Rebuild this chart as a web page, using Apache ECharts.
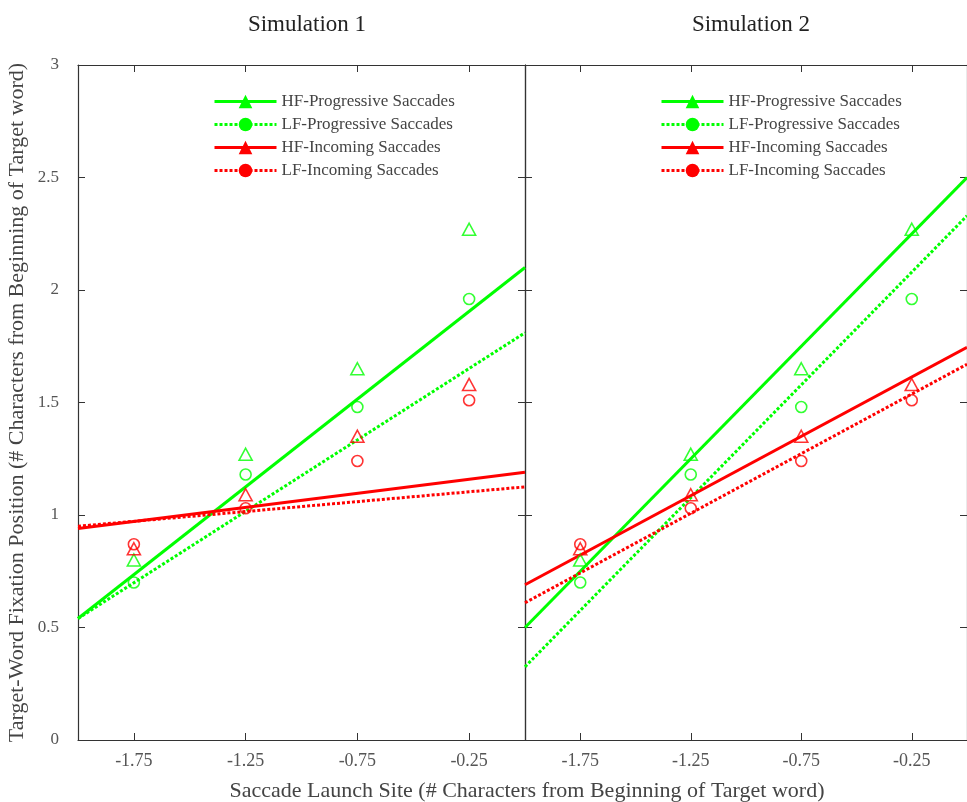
<!DOCTYPE html>
<html>
<head>
<meta charset="utf-8">
<script src="https://cdn.jsdelivr.net/npm/echarts@6/dist/echarts.min.js"></script>
<style>
  html, body { margin: 0; padding: 0; background: #fff; }
  #chart { width: 967px; height: 802px; }
</style>
</head>
<body>
<div id="chart"></div>
<script>
// ---- Data ----
const launchSites = [-1.75, -1.25, -0.75, -0.25];

// Observed fixation positions (same in both panels)
const hfProgressive = [0.80, 1.27, 1.65, 2.27];
const lfProgressive = [0.70, 1.18, 1.48, 1.96];
const hfIncoming   = [0.85, 1.09, 1.35, 1.58];
const lfIncoming   = [0.87, 1.03, 1.24, 1.51];

// Fitted lines: values at x = -2 and x = 0
const fitX = [-2, 0];
const sim1FitHFProg = [0.54, 2.10];
const sim1FitLFProg = [0.54, 1.81];
const sim1FitHFInc  = [0.94, 1.19];
const sim1FitLFInc  = [0.95, 1.125];
const sim2FitHFProg = [0.50, 2.50];
const sim2FitLFProg = [0.325, 2.33];
const sim2FitHFInc  = [0.69, 1.745];
const sim2FitLFInc  = [0.61, 1.67];

const seriesNames = ['HF-Progressive Saccades', 'LF-Progressive Saccades', 'HF-Incoming Saccades', 'LF-Incoming Saccades'];
const panelTitles = ['Simulation 1', 'Simulation 2'];
const xTitle = 'Saccade Launch Site (# Characters from Beginning of Target word)';
const yTitle = 'Target-Word Fixation Position (# Characters from Beginning of Target word)';

// ---- Styles ----
const GREEN = '#00ff00';
const RED = '#ff0000';
const FONT = '"Liberation Serif", "DejaVu Serif", serif';
const AXIS = '#333';
const DOT = [3, 2];

const pair = (xs, ys) => xs.map((x, i) => [x, ys[i]]);

const seriesDefs = [
  { name: seriesNames[0], color: GREEN, dash: 'solid', sym: 'triangle', pts: hfProgressive, fits: [sim1FitHFProg, sim2FitHFProg] },
  { name: seriesNames[1], color: GREEN, dash: DOT, sym: 'circle', pts: lfProgressive, fits: [sim1FitLFProg, sim2FitLFProg] },
  { name: seriesNames[2], color: RED, dash: 'solid', sym: 'triangle', pts: hfIncoming, fits: [sim1FitHFInc, sim2FitHFInc] },
  { name: seriesNames[3], color: RED, dash: DOT, sym: 'circle', pts: lfIncoming, fits: [sim1FitLFInc, sim2FitLFInc] }
];

const series = [];
[0, 1].forEach(panel => {
  seriesDefs.forEach(d => {
    series.push({
      type: 'line', name: d.name,
      xAxisIndex: panel * 2, yAxisIndex: panel * 2,
      data: pair(fitX, d.fits[panel]),
      symbol: d.sym, showSymbol: false, symbolSize: 12,
      lineStyle: { color: d.color, width: 3, type: d.dash },
      itemStyle: { color: d.color },
      silent: true, animation: false, z: 2
    });
  });
});
[0, 1].forEach(panel => {
  seriesDefs.forEach(d => {
    series.push({
      type: 'scatter', name: d.name + ' (obs)',
      xAxisIndex: panel * 2, yAxisIndex: panel * 2,
      data: pair(launchSites, d.pts),
      symbol: d.sym,
      symbolSize: d.sym === 'triangle' ? [13, 12] : 11,
      itemStyle: { color: 'rgba(0,0,0,0)', borderColor: d.color, borderWidth: 1.6 },
      silent: true, animation: false, z: 5
    });
  });
});

function xAxes(gridIndex) {
  const base = {
    type: 'value', gridIndex, min: -2, max: 0,
    axisLine: { show: true, onZero: false, lineStyle: { color: AXIS, width: 1.2 } },
    axisTick: { show: true, inside: true, length: 7, customValues: launchSites, lineStyle: { color: AXIS } },
    splitLine: { show: false }
  };
  return [
    Object.assign({}, base, {
      position: 'bottom',
      axisLabel: { show: true, customValues: launchSites, margin: 12, fontSize: 18, color: '#555', fontFamily: FONT }
    }),
    Object.assign({}, base, { position: 'top', axisLabel: { show: false } })
  ];
}
function yAxes(gridIndex) {
  const base = {
    type: 'value', gridIndex, min: 0, max: 3, interval: 0.5,
    axisLine: { show: true, onZero: false, lineStyle: { color: AXIS, width: 1.2 } },
    axisTick: { show: true, inside: true, length: 7, lineStyle: { color: AXIS } },
    splitLine: { show: false }
  };
  const left = Object.assign({}, base, { position: 'left', axisLabel: { show: false } });
  if (gridIndex === 0) {
    left.axisLabel = { show: true, margin: 19, fontSize: 17, color: '#555', fontFamily: FONT };
    left.name = yTitle;
    left.nameLocation = 'middle';
    left.nameGap = 50;
    left.nameTextStyle = { fontSize: 22, color: '#444', fontFamily: FONT };
  }
  return [left, Object.assign({}, base, { position: 'right', axisLabel: { show: false } })];
}

const legendBase = {
  orient: 'vertical', data: seriesNames,
  itemWidth: 62, itemHeight: 17, itemGap: 6,
  textStyle: { fontSize: 17, color: '#444', fontFamily: FONT },
  lineStyle: { width: 3 },
  selectedMode: false
};

const option = {
  backgroundColor: '#fff',
  animation: false,
  title: [
    { text: panelTitles[0], left: 302, top: 8, textAlign: 'center', textStyle: { fontSize: 23, fontWeight: 'normal', color: '#222', fontFamily: FONT } },
    { text: panelTitles[1], left: 746, top: 8, textAlign: 'center', textStyle: { fontSize: 23, fontWeight: 'normal', color: '#222', fontFamily: FONT } },
    { text: xTitle, left: 522, top: 775, textAlign: 'center', textStyle: { fontSize: 22, fontWeight: 'normal', color: '#444', fontFamily: FONT } }
  ],
  legend: [
    Object.assign({}, legendBase, { left: 208, top: 88 }),
    Object.assign({}, legendBase, { left: 655, top: 88 })
  ],
  grid: [
    { left: 78, right: 442, top: 65, bottom: 62 },
    { left: 525, right: -2, top: 65, bottom: 62 }
  ],
  xAxis: [...xAxes(0), ...xAxes(1)],
  yAxis: [...yAxes(0), ...yAxes(1)],
  series
};

const chart = echarts.init(document.getElementById('chart'), null, { renderer: 'canvas' });
chart.setOption(option);
</script>
</body>
</html>
